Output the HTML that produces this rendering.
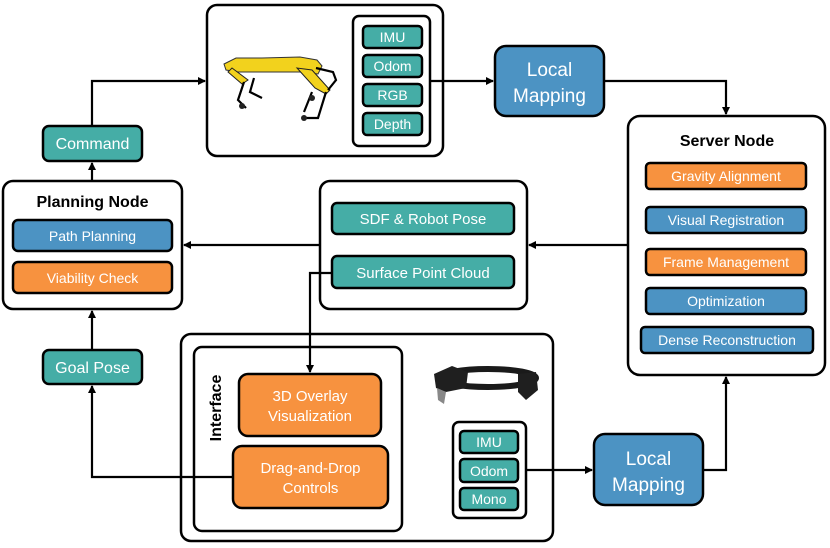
<!DOCTYPE html>
<html><head><meta charset="utf-8"><style>
html,body{margin:0;padding:0;background:#fff;}
svg{display:block;}
text{font-family:"Liberation Sans",sans-serif;}
.w{fill:#fff;font-size:14px;text-anchor:middle;}
.wb{fill:#fff;font-size:19px;text-anchor:middle;}
.t{fill:#45ada6;stroke:#000;stroke-width:2.5;}
.b{fill:#4c93c3;stroke:#000;stroke-width:2.5;}
.o{fill:#f7923f;stroke:#000;stroke-width:2.5;}
.f{fill:#fff;stroke:#000;stroke-width:2.5;}
.l{fill:none;stroke:#000;stroke-width:2.2;}
</style></head><body>
<svg width="830" height="548" viewBox="0 0 830 548" xmlns="http://www.w3.org/2000/svg">
<defs><marker id="a" markerWidth="8" markerHeight="8" refX="7" refY="4" orient="auto" markerUnits="userSpaceOnUse"><path d="M0,0 L8,4 L0,8 z" fill="#000"/></marker></defs>

<!-- robot box -->
<rect class="f" x="207" y="5" width="236" height="151" rx="10"/>
<g>
<path d="M224,64 L236,58 L262,58 L300,57 L317,60 L322,66 L318,74 L300,72 L260,72 L238,72 L226,70 z" fill="#f2d21d" stroke="#333" stroke-width="1"/>
<path d="M232,68 L248,80 L242,84 L228,72 z" fill="#f2d21d" stroke="#222" stroke-width="1"/>
<path d="M297,68 L315,88 L326,94 L330,90 L312,70 z" fill="#f2d21d" stroke="#222" stroke-width="1"/>
<path class="l" d="M244,82 L238,100 L246,108 M254,78 L250,92 L262,98 M312,92 L304,112 M326,92 L318,118 L306,118 M316,68 L333,72 L336,80 L328,90" stroke-width="3" stroke="#222"/>
<circle cx="242" cy="106" r="3" fill="#222"/><circle cx="304" cy="118" r="3" fill="#222"/><circle cx="312" cy="98" r="3" fill="#222"/>
</g>
<rect class="f" x="353" y="16" width="77" height="130" rx="6"/>
<rect class="t" x="363" y="26" width="59" height="22" rx="4"/><text class="w" x="392.5" y="42">IMU</text>
<rect class="t" x="363" y="55" width="59" height="22" rx="4"/><text class="w" x="392.5" y="71">Odom</text>
<rect class="t" x="363" y="84" width="59" height="22" rx="4"/><text class="w" x="392.5" y="100">RGB</text>
<rect class="t" x="363" y="113" width="59" height="22" rx="4"/><text class="w" x="392.5" y="129">Depth</text>

<!-- local mapping top -->
<rect class="b" x="495" y="46" width="109" height="70" rx="11"/>
<text class="wb" x="549.5" y="76">Local</text><text class="wb" x="549.5" y="102">Mapping</text>

<!-- command -->
<rect class="t" x="43" y="126" width="99" height="35" rx="6"/>
<text class="w" x="92.5" y="149" style="font-size:16px">Command</text>

<!-- planning node -->
<rect class="f" x="3" y="181" width="179" height="128" rx="10"/>
<text x="92.5" y="207" style="font-size:16px;font-weight:bold;text-anchor:middle">Planning Node</text>
<rect class="b" x="13" y="220" width="159" height="31" rx="5"/><text class="w" x="92.5" y="241">Path Planning</text>
<rect class="o" x="13" y="262" width="159" height="31" rx="5"/><text class="w" x="92.5" y="283">Viability Check</text>

<!-- middle box -->
<rect class="f" x="320" y="181" width="207" height="128" rx="10"/>
<rect class="t" x="332" y="203" width="182" height="31" rx="5"/><text class="w" x="423" y="224" style="font-size:15px">SDF &amp; Robot Pose</text>
<rect class="t" x="332" y="256" width="182" height="32" rx="5"/><text class="w" x="423" y="278" style="font-size:15px">Surface Point Cloud</text>

<!-- server node -->
<rect class="f" x="628" y="116" width="197" height="259" rx="12"/>
<text x="727" y="146" style="font-size:16px;font-weight:bold;text-anchor:middle">Server Node</text>
<rect class="o" x="646" y="163" width="160" height="26" rx="4"/><text class="w" x="726" y="181">Gravity Alignment</text>
<rect class="b" x="646" y="207" width="160" height="26" rx="4"/><text class="w" x="726" y="225">Visual Registration</text>
<rect class="o" x="646" y="249" width="160" height="26" rx="4"/><text class="w" x="726" y="267">Frame Management</text>
<rect class="b" x="646" y="288" width="160" height="26" rx="4"/><text class="w" x="726" y="306">Optimization</text>
<rect class="b" x="641" y="327" width="172" height="26" rx="4"/><text class="w" x="727" y="345">Dense Reconstruction</text>

<!-- goal pose -->
<rect class="t" x="43" y="350" width="99" height="34" rx="6"/>
<text class="w" x="92.5" y="373" style="font-size:16px">Goal Pose</text>

<!-- interface outer -->
<rect class="f" x="181" y="334" width="372" height="207" rx="10"/>
<rect class="f" x="194" y="347" width="208" height="184" rx="8"/>
<text transform="translate(221,408) rotate(-90)" style="font-size:16px;font-weight:bold;text-anchor:middle">Interface</text>

<!-- connectors (drawn after box backgrounds) -->
<path class="l" d="M92,126 V81 H205" marker-end="url(#a)"/>
<path class="l" d="M92,181 V163" marker-end="url(#a)"/>
<path class="l" d="M430,81 H493" marker-end="url(#a)"/>
<path class="l" d="M604,81 H726 V114" marker-end="url(#a)"/>
<path class="l" d="M628,245 H529" marker-end="url(#a)"/>
<path class="l" d="M320,245 H184" marker-end="url(#a)"/>
<path class="l" d="M332,273 H310 V372" marker-end="url(#a)"/>
<path class="l" d="M92,350 V311" marker-end="url(#a)"/>
<path class="l" d="M233,477 H92 V386" marker-end="url(#a)"/>
<path class="l" d="M526,470 H592" marker-end="url(#a)"/>
<path class="l" d="M703,470 H726 V377" marker-end="url(#a)"/>

<rect class="o" x="239" y="374" width="142" height="62" rx="9"/>
<text class="w" x="310" y="401" style="font-size:15px">3D Overlay</text><text class="w" x="310" y="421" style="font-size:15px">Visualization</text>
<rect class="o" x="233" y="446" width="155" height="62" rx="9"/>
<text class="w" x="310.5" y="473" style="font-size:15px">Drag-and-Drop</text><text class="w" x="310.5" y="493" style="font-size:15px">Controls</text>

<!-- headset -->
<g>
<ellipse cx="488" cy="378" rx="48" ry="9" fill="none" stroke="#1a1a1a" stroke-width="6"/>
<path d="M434,374 L452,366 L468,372 L466,388 L446,392 L436,388 z" fill="#1f1f1f"/>
<path d="M518,374 L536,372 L538,390 L526,400 L518,392 z" fill="#1f1f1f"/>
<path d="M437,388 L446,392 L444,404 L438,400 z" fill="#888"/>
</g>
<rect class="f" x="453" y="422" width="73" height="96" rx="6"/>
<rect class="t" x="460" y="431" width="58" height="22" rx="4"/><text class="w" x="489" y="447">IMU</text>
<rect class="t" x="460" y="459" width="58" height="23" rx="4"/><text class="w" x="489" y="476">Odom</text>
<rect class="t" x="460" y="488" width="58" height="22" rx="4"/><text class="w" x="489" y="504">Mono</text>

<!-- local mapping bottom -->
<rect class="b" x="594" y="434" width="109" height="71" rx="11"/>
<text class="wb" x="648.5" y="465">Local</text><text class="wb" x="648.5" y="491">Mapping</text>
</svg>
</body></html>
